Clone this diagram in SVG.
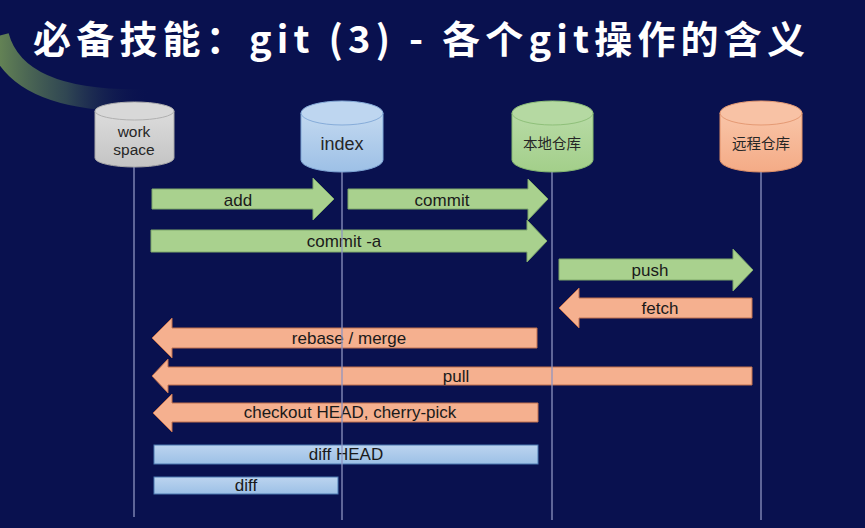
<svg xmlns="http://www.w3.org/2000/svg" width="865" height="528" viewBox="0 0 865 528">
<defs>
<linearGradient id="arcG" x1="0" y1="0" x2="1" y2="0">
<stop offset="0" stop-color="#6a8a55" stop-opacity="0.95"/>
<stop offset="0.45" stop-color="#4a6a55" stop-opacity="0.6"/>
<stop offset="1" stop-color="#09114f" stop-opacity="0"/>
</linearGradient>
<linearGradient id="gGray" x1="0" y1="0" x2="0" y2="1"><stop offset="0" stop-color="#dcdcdc"/><stop offset="1" stop-color="#c4c4c4"/></linearGradient>
<linearGradient id="gBlue" x1="0" y1="0" x2="0" y2="1"><stop offset="0" stop-color="#c3d9f0"/><stop offset="1" stop-color="#9dc0e6"/></linearGradient>
<linearGradient id="gGreen" x1="0" y1="0" x2="0" y2="1"><stop offset="0" stop-color="#b8dba6"/><stop offset="1" stop-color="#a3cf8a"/></linearGradient>
<linearGradient id="gOrange" x1="0" y1="0" x2="0" y2="1"><stop offset="0" stop-color="#f9c5a8"/><stop offset="1" stop-color="#f4ab86"/></linearGradient>
<linearGradient id="gBar" x1="0" y1="0" x2="0" y2="1"><stop offset="0" stop-color="#bcd4ef"/><stop offset="1" stop-color="#9cc0e6"/></linearGradient>
</defs>
<style>
.t{font-family:"Liberation Sans",Arial,sans-serif;font-size:17px;fill:#1a1a1a;text-anchor:middle}
.ct{font-family:"Liberation Sans",Arial,sans-serif;fill:#262626;text-anchor:middle}
.cj{font-family:"Noto Sans CJK SC","Liberation Sans",sans-serif;font-size:14.5px;fill:#262626;text-anchor:middle}
.ga{fill:#a9d18e;stroke:#7fa86a;stroke-width:1}
.oa{fill:#f5b08f;stroke:#c0704e;stroke-width:1}
.ba{fill:url(#gBar);stroke:#4a78b0;stroke-width:1}
.life{stroke:#8f96c2;stroke-width:1.5;opacity:0.85}
</style>
<rect x="0" y="0" width="865" height="528" fill="#09114f"/>
<path d="M -2,36 Q 16,104 150,100" fill="none" stroke="url(#arcG)" stroke-width="22" stroke-linecap="butt"/>
<text x="33" y="53" textLength="772" lengthAdjust="spacing" style="font-family:'Noto Sans CJK SC','Liberation Sans',sans-serif;font-size:38px;font-weight:bold;fill:#ffffff">必备技能：git (3) - 各个git操作的含义</text>

<g id="workspace">
<path d="M95,111 L95,158 A39.5,9 0 0 0 174,158 L174,111 Z" fill="url(#gGray)" stroke="#a8a8a8"/>
<ellipse cx="134.5" cy="111" rx="39.5" ry="9" fill="#d8d8d8" stroke="#b0b0b0"/>
<text class="ct" x="134" y="137" font-size="15.5">work</text>
<text class="ct" x="134" y="155" font-size="15.5">space</text>
</g>
<g id="index">
<path d="M301,113 L301,160 A41,12 0 0 0 383,160 L383,113 Z" fill="url(#gBlue)" stroke="#7fa6d6"/>
<ellipse cx="342" cy="113" rx="41" ry="12" fill="#bed6f0" stroke="#86acd9"/>
<text class="ct" x="342" y="150" font-size="18">index</text>
</g>
<g id="local">
<path d="M512,113 L512,160 A40.5,12 0 0 0 593,160 L593,113 Z" fill="url(#gGreen)" stroke="#86b972"/>
<ellipse cx="552.5" cy="113" rx="40.5" ry="12" fill="#b5d9a2" stroke="#8fc07a"/>
<text class="cj" x="552" y="149">本地仓库</text>
</g>
<g id="remote">
<path d="M720,113 L720,160 A41,12 0 0 0 802,160 L802,113 Z" fill="url(#gOrange)" stroke="#e09068"/>
<ellipse cx="761" cy="113" rx="41" ry="12" fill="#f8c2a5" stroke="#e59a74"/>
<text class="cj" x="761" y="149">远程仓库</text>
</g>

<g id="connectors">
<polygon class="ga" points="152,189 313,189 313,178 334,199 313,220 313,209 152,209"/>
<polygon class="ga" points="348,189 528,189 528,179 548,199 528,220 528,209 348,209"/>
<polygon class="ga" points="151,230 527,230 527,220 547,241 527,262 527,252 151,252"/>
<polygon class="ga" points="559,259 733,259 733,249 753,270 733,291 733,280 559,280"/>
<polygon class="oa" points="752,298 579,298 579,288 559,308 579,328 579,318 752,318"/>
<polygon class="oa" points="537,328 172,328 172,318 152,338 172,358 172,348 537,348"/>
<polygon class="oa" points="752,367 168,367 168,359 152,376 168,393 168,385 752,385"/>
<polygon class="oa" points="538,403 172,403 172,394 153,413 172,432 172,422 538,422"/>
<rect class="ba" x="154" y="445" width="384" height="19"/>
<rect class="ba" x="154" y="477" width="184" height="17"/>
<text class="t" x="238" y="206">add</text>
<text class="t" x="442" y="206">commit</text>
<text class="t" x="344" y="247">commit -a</text>
<text class="t" x="650" y="276">push</text>
<text class="t" x="660" y="314">fetch</text>
<text class="t" x="349" y="344">rebase / merge</text>
<text class="t" x="456" y="382">pull</text>
<text class="t" x="350" y="418">checkout HEAD, cherry-pick</text>
<text class="t" x="346" y="460">diff HEAD</text>
<text class="t" x="246" y="491">diff</text>
</g>

<g id="lifelines">
<line class="life" x1="134" y1="167" x2="134" y2="517"/>
<line class="life" x1="342" y1="172" x2="342" y2="520"/>
<line class="life" x1="552" y1="172" x2="552" y2="520"/>
<line class="life" x1="761" y1="172" x2="761" y2="520"/>
</g>
</svg>
